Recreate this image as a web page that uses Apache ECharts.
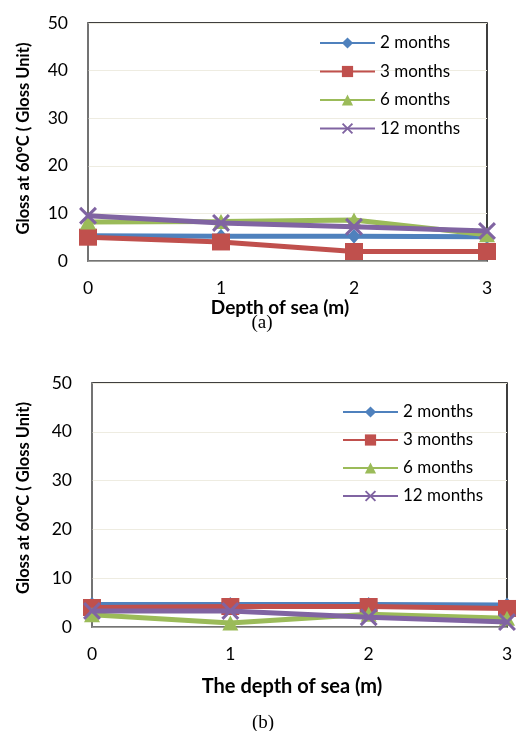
<!DOCTYPE html>
<html>
<head>
<meta charset="utf-8">
<script src="https://cdn.jsdelivr.net/npm/echarts@6/dist/echarts.min.js"></script>
<style>
html,body{margin:0;padding:0;background:#fff;}
#c{width:517px;height:731px;}
</style>
</head>
<body>
<div id="c"></div>
<script>
// ---- data ----
const depths = ['0', '1', '2', '3'];
const seriesNames = ['2 months', '3 months', '6 months', '12 months'];
const yTicks = [0, 10, 20, 30, 40, 50];
// (a) Depth of sea
const a_2m  = [5.3, 5.2, 5.2, 5.1];
const a_3m  = [5.0, 4.0, 2.0, 2.0];
const a_6m  = [8.2, 8.3, 8.6, 5.5];
const a_12m = [9.5, 8.0, 7.2, 6.3];
// (b) The depth of sea
const b_2m  = [4.6, 4.6, 4.6, 4.5];
const b_3m  = [4.0, 4.2, 4.2, 3.8];
const b_6m  = [2.5, 0.8, 2.6, 1.8];
const b_12m = [3.3, 3.3, 2.0, 1.0];

const colors = ['#4F81BD', '#C0504D', '#9BBB59', '#8064A2'];
const xPath = 'path://M0,1.2L1.2,0L5,3.8L8.8,0L10,1.2L6.2,5L10,8.8L8.8,10L5,6.2L1.2,10L0,8.8L3.8,5Z';
const symbols = ['diamond', 'rect', 'triangle', xPath];
const symSizes = [[13, 15], [18, 17], [16, 15], [18, 18]];
const FONT = 'Lato, "Open Sans", sans-serif';

function mkSeries(dataList, xi, yi) {
  return dataList.map((d, i) => ({
    name: seriesNames[i],
    type: 'line',
    xAxisIndex: xi,
    yAxisIndex: yi,
    data: d,
    symbol: symbols[i],
    symbolSize: symSizes[i],
    symbolKeepAspect: false,
    lineStyle: { color: colors[i], width: 5 },
    itemStyle: { color: colors[i] },
    emphasis: { disabled: true },
    animation: false,
    z: 3 + i
  }));
}

function xAxisCfg(gi, name, gap, fs) {
  return {
    type: 'category', gridIndex: gi, data: depths, boundaryGap: false,
    axisLine: { show: true, lineStyle: { color: '#868686', width: 1.5 } },
    axisTick: { show: false },
    axisLabel: { color: '#000', fontSize: 17.5, fontFamily: FONT, margin: 18 },
    splitLine: { show: false },
    name: name, nameLocation: 'middle', nameGap: gap,
    nameTextStyle: { color: '#000', fontSize: fs, fontWeight: 'bold', fontFamily: FONT, padding: [0, 15, 0, 0] }
  };
}
function yAxisCfg(gi, gap, pad) {
  return {
    type: 'value', gridIndex: gi, min: yTicks[0], max: yTicks[yTicks.length - 1],
    interval: yTicks[1] - yTicks[0],
    axisLine: { show: true, lineStyle: { color: '#868686', width: 1.5 } },
    axisTick: { show: false },
    axisLabel: { color: '#000', fontSize: 17.5, fontFamily: FONT, margin: 20 },
    splitLine: { show: true, lineStyle: { color: '#EEECE1', width: 1.2 } },
    name: 'Gloss at 60ºC ( Gloss Unit)', nameLocation: 'middle', nameGap: gap, nameRotate: 90,
    nameTextStyle: { color: '#000', fontSize: 16.5, fontWeight: 'bold', fontFamily: FONT, padding: pad }
  };
}

const legendText = { color: '#000', fontSize: 17, fontFamily: FONT };

const chart = echarts.init(document.getElementById('c'), null, { renderer: 'canvas' });
chart.setOption({
  backgroundColor: '#fff',
  animation: false,
  color: colors,
  grid: [
    { left: 88, right: 30, top: 23, bottom: 470, show: true, borderColor: '#000', borderWidth: 1.5, backgroundColor: 'transparent' },
    { left: 92, right: 10, top: 383, bottom: 104, show: true, borderColor: '#000', borderWidth: 1.5, backgroundColor: 'transparent' }
  ],
  legend: [
    { data: seriesNames, orient: 'vertical', left: 319, top: 34.5, padding: 0, itemWidth: 55, itemHeight: 14, itemGap: 11.5,
      textStyle: legendText, selectedMode: false },
    { data: seriesNames, orient: 'vertical', left: 342, top: 403.5, padding: 0, itemWidth: 55, itemHeight: 14, itemGap: 11,
      textStyle: legendText, selectedMode: false }
  ],
  xAxis: [xAxisCfg(0, 'Depth of sea (m)', 30, 19), xAxisCfg(1, 'The depth of sea (m)', 50, 20)],
  yAxis: [yAxisCfg(0, 56, [0, 0, 0, 7]), yAxisCfg(1, 60, [0, 0, 0, 14])],
  series: [].concat(
    mkSeries([a_2m, a_3m, a_6m, a_12m], 0, 0),
    mkSeries([b_2m, b_3m, b_6m, b_12m], 1, 1)
  ),
  graphic: [
    { type: 'text', x: 262, y: 323, style: { text: '(a)', font: '19px "Liberation Serif", "DejaVu Serif", serif', fill: '#000', textAlign: 'center', textVerticalAlign: 'middle' } },
    { type: 'text', x: 263, y: 723, style: { text: '(b)', font: '19px "Liberation Serif", "DejaVu Serif", serif', fill: '#000', textAlign: 'center', textVerticalAlign: 'middle' } }
  ]
});
</script>
</body>
</html>
